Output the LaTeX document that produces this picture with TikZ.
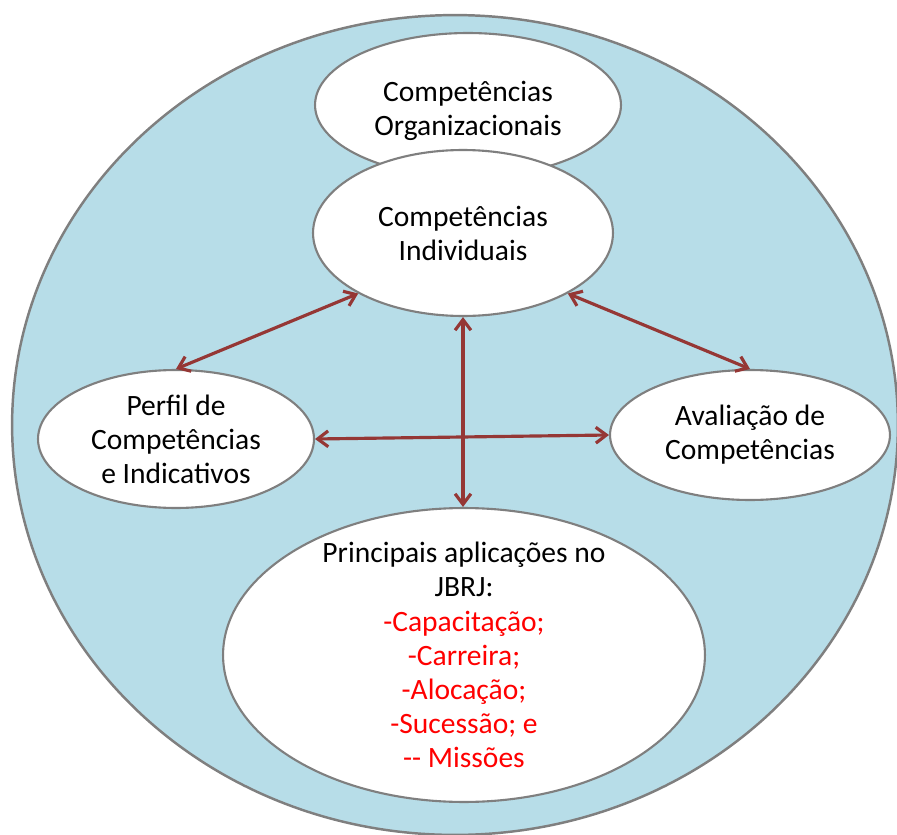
\documentclass[tikz,border=0pt]{standalone}
\usepackage{fontspec}
\setmainfont{Carlito}
\usetikzlibrary{shapes.geometric,arrows.meta}
\definecolor{azulfundo}{HTML}{B7DDE8}
\definecolor{cinzaborda}{HTML}{7F7F7F}
\definecolor{vermelhoseta}{HTML}{953735}

\begin{document}
\begin{tikzpicture}[
    x=0.02cm, y=-0.02cm,
    every node/.style={font=\fontsize{16.8}{19.4}\selectfont},
    bolha/.style={ellipse, draw=cinzaborda, fill=white, line width=1.2pt, inner sep=0pt},
    texto/.style={align=center, inner sep=0pt},
    seta/.style={draw=vermelhoseta, line width=1.8pt,
      {Straight Barb[length=6pt,width=9pt]}-{Straight Barb[length=6pt,width=9pt]}}
  ]
  \useasboundingbox (0,0) rectangle (897,835);
  % Fundo
  \node[bolha, fill=azulfundo, line width=1.4pt, minimum width=17.72cm, minimum height=16.4cm] (fundo) at (455,425) {};
  % Elipses
  \node[bolha, minimum width=6.12cm, minimum height=2.88cm,
    label={[texto, name=orgtxt, yshift=-3.4pt]center:{Competências\\Organizacionais}}] (org) at (468,105) {};
  \node[bolha, minimum width=6cm, minimum height=3.32cm,
    label={[texto, name=indtxt]center:{Competências\\Individuais}}] (ind) at (463,233) {};
  \node[bolha, minimum width=5.52cm, minimum height=2.76cm,
    label={[texto, name=perftxt]center:{Perfil de\\Competências\\e Indicativos}}] (perf) at (176,439) {};
  \node[bolha, minimum width=5.6cm, minimum height=2.6cm,
    label={[texto, name=avaltxt]center:{Avaliação de\\Competências}}] (aval) at (750,435) {};
  \node[bolha, minimum width=9.64cm, minimum height=5.88cm,
    label={[texto, name=apltxt]center:{Principais aplicações no\\JBRJ:\\
      \textcolor{red}{-Capacitação;}\\\textcolor{red}{-Carreira;}\\
      \textcolor{red}{-Alocação;}\\\textcolor{red}{-Sucessão; e}\\
      \textcolor{red}{-{}- Missões}}}] (apl) at (464,655) {};
  % Setas
  \draw[seta] (perf.north) -- (ind.210);
  \draw[seta] (ind.330) -- (aval.north);
  \draw[seta] (ind.south) -- (ind.south |- apl.north);
  \draw[seta] (perf.east) -- (aval.west);
\end{tikzpicture}
\end{document}
